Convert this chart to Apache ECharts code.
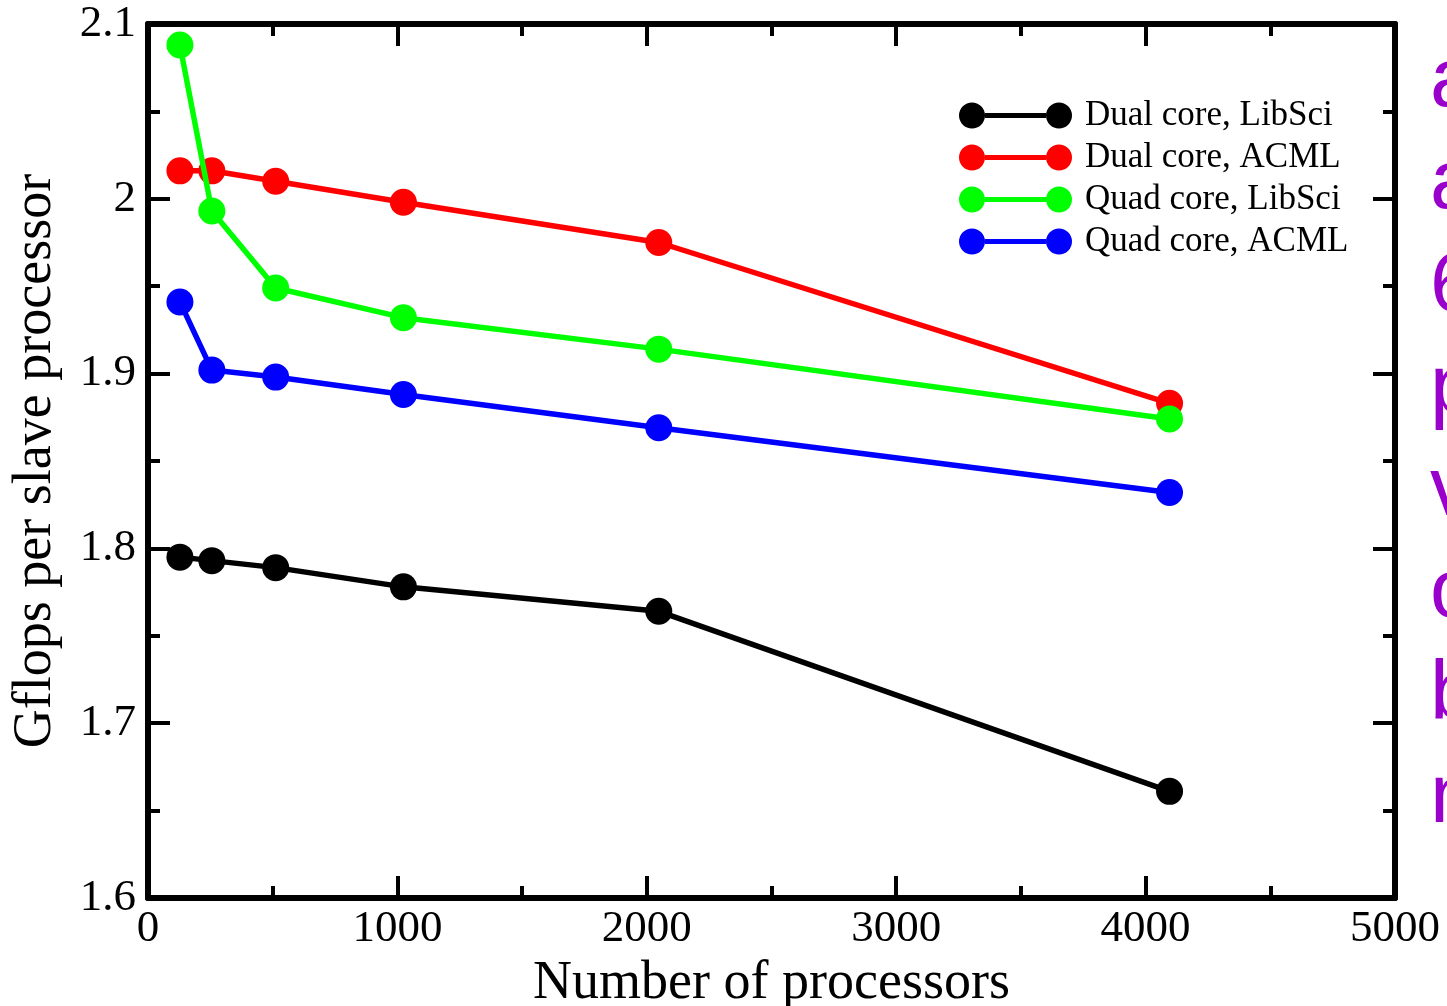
<!DOCTYPE html>
<html>
<head>
<meta charset="utf-8">
<script src="https://cdn.jsdelivr.net/npm/echarts@6/dist/echarts.min.js"></script>
<style>
  html, body { margin: 0; padding: 0; background: #fff; overflow: hidden; }
  #chart { width: 1447px; height: 1006px; }
</style>
</head>
<body>
<div id="chart"></div>
<script>
// Processor counts (x) shared by every run
const processors = [128, 256, 512, 1024, 2048, 4096];

// Gflops per slave processor for each configuration
const dualLibSci  = [1.795, 1.793, 1.789, 1.778, 1.764, 1.661];
const dualACML    = [2.016, 2.016, 2.010, 1.998, 1.975, 1.883];
const quadLibSci  = [2.088, 1.993, 1.949, 1.932, 1.914, 1.874];
const quadACML    = [1.941, 1.902, 1.898, 1.888, 1.869, 1.832];

const seriesNames  = ['Dual core, LibSci', 'Dual core, ACML', 'Quad core, LibSci', 'Quad core, ACML'];
const seriesValues = [dualLibSci, dualACML, quadLibSci, quadACML];
const seriesColors = ['#000000', '#ff0000', '#00ff00', '#0000ff'];

// Clipped side text running down the right edge
const sideLetters = ['a', 'a', '6', 'p', 'v', 'o', 'b', 'n'];

const serif = '"Liberation Serif", "Times New Roman", serif';

// Legend glyph: dot - bar - dot
const legendIcon = 'path://M13,0A13,13 0 1,0 13,26A13,13 0 1,0 13,0Z' +
                   'M100,0A13,13 0 1,0 100,26A13,13 0 1,0 100,0Z' +
                   'M26,10.5L87,10.5L87,15.5L26,15.5Z';

const frameLine = { show: true, onZero: false, lineStyle: { color: '#000', width: 6 } };
const majorTick = { show: true, inside: true, length: 22, lineStyle: { color: '#000', width: 4 } };
const minorTick = { show: true, splitNumber: 2, length: 12, lineStyle: { color: '#000', width: 4 } };

function xAxisDef(pos, withLabels) {
  return {
    type: 'value', position: pos, min: 0, max: 5000, interval: 1000,
    axisLine: frameLine, axisTick: majorTick, minorTick: minorTick,
    splitLine: { show: false },
    axisLabel: withLabels ? {
      show: true, color: '#000', fontFamily: serif, fontSize: 45, margin: 9,
      showMinLabel: true, showMaxLabel: true,
      formatter: v => String(v)
    } : { show: false },
    name: withLabels ? 'Number of processors' : '',
    nameLocation: 'middle', nameGap: 53,
    nameTextStyle: { color: '#000', fontFamily: serif, fontSize: 54 }
  };
}

function yAxisDef(pos, withLabels) {
  return {
    type: 'value', position: pos, min: 1.6, max: 2.1, interval: 0.1,
    axisLine: frameLine, axisTick: majorTick, minorTick: minorTick,
    splitLine: { show: false },
    axisLabel: withLabels ? {
      show: true, color: '#000', fontFamily: serif, fontSize: 45, margin: 12,
      showMinLabel: true, showMaxLabel: true,
      formatter: v => String(Math.round(v * 10) / 10)
    } : { show: false },
    name: withLabels ? 'Gflops per slave processor' : '',
    nameLocation: 'middle', nameGap: 85,
    nameTextStyle: { color: '#000', fontFamily: serif, fontSize: 54 }
  };
}

const chart = echarts.init(document.getElementById('chart'), null, { renderer: 'canvas' });

chart.setOption({
  backgroundColor: '#fff',
  animation: false,
  grid: { left: 148, right: 52, top: 24, bottom: 108, containLabel: false, outerBoundsMode: 'none' },
  xAxis: [xAxisDef('bottom', true), xAxisDef('top', false)],
  yAxis: [yAxisDef('left', true), yAxisDef('right', false)],
  legend: {
    orient: 'vertical', left: 954, top: 93, padding: 5,
    itemWidth: 113, itemHeight: 26, itemGap: 7,
    icon: legendIcon,
    data: seriesNames,
    textStyle: { color: '#000', fontFamily: serif, fontSize: 35, padding: [0, 0, 0, 8] }
  },
  series: seriesNames.map((name, i) => ({
    name: name,
    type: 'line',
    xAxisIndex: 0, yAxisIndex: 0,
    data: processors.map((p, j) => [p, seriesValues[i][j]]),
    symbol: 'circle', symbolSize: 27, showSymbol: true,
    lineStyle: { color: seriesColors[i], width: 5.5 },
    itemStyle: { color: seriesColors[i], borderWidth: 0 },
    emphasis: { disabled: true },
    z: 3 + i
  })),
  graphic: sideLetters.map((ch, k) => ({
    type: 'text', left: 1430, top: 107 + 102.2 * k - 66, silent: true,
    style: {
      text: ch, fill: '#9900cc',
      font: '84px "Liberation Sans", Arial, sans-serif'
    }
  }))
});
</script>
</body>
</html>
